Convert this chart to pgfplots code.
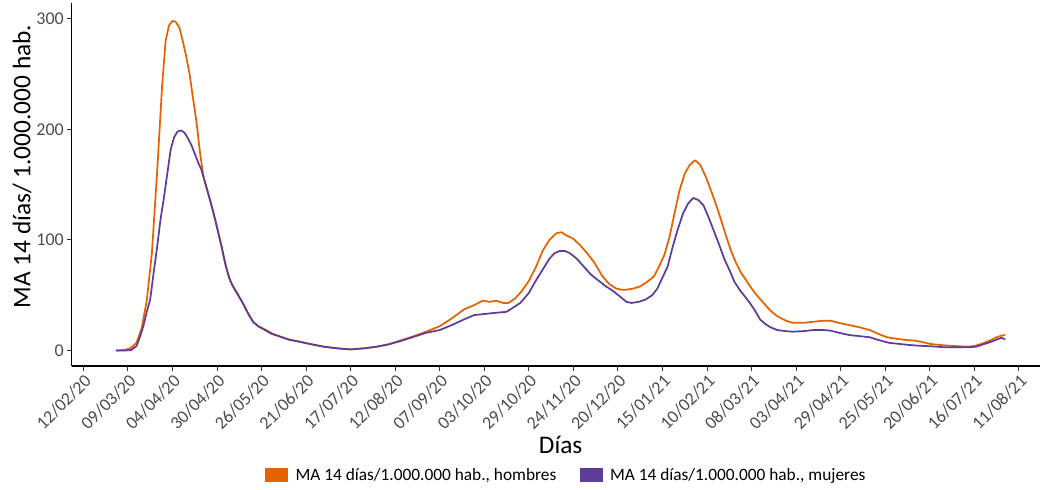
\documentclass[border=0pt]{standalone}
\usepackage{pgfplots}
\pgfplotsset{compat=1.18}
\usepackage{fontspec}
\setmainfont{Carlito}
\definecolor{hom}{HTML}{E66101}
\definecolor{muj}{HTML}{5E3C99}
\definecolor{tickgrey}{HTML}{4D4D4D}
\begin{document}
\begin{tikzpicture}
\begin{axis}[
  at={(0,0)}, anchor=south west,
  scale only axis, width=726.2pt, height=272.0pt,
  xmin=-6.8, xmax=558.3, ymin=-14.0, ymax=313.9,
  axis x line*=bottom, axis y line*=left,
  axis line style={black, line width=0.9pt, -},
  xtick={0,26,52,78,104,130,156,182,208,234,260,286,312,338,364,390,416,442,468,494,520,546},
  xticklabels={12/02/20,09/03/20,04/04/20,30/04/20,26/05/20,21/06/20,17/07/20,12/08/20,07/09/20,03/10/20,29/10/20,24/11/20,20/12/20,15/01/21,10/02/21,08/03/21,03/04/21,29/04/21,25/05/21,20/06/21,16/07/21,11/08/21},
  ytick={0,100,200,300},
  tick align=outside, major tick length=3.75pt,
  tick style={black!80, line width=0.75pt},
  /pgf/number format/assume math mode=true,
  tick label style={font=\fontsize{13.5}{15}\selectfont, text=tickgrey},
  xticklabel style={rotate=45, anchor=north east, inner sep=1pt},
  yticklabel style={inner sep=2pt},
  xlabel={Días},
  ylabel={MA 14 días/ 1.000.000 hab.},
  label style={font=\fontsize{19}{22}\selectfont},
  xlabel style={at={(axis description cs:0.505,-0.218)}, anchor=center},
  ylabel style={at={(axis description cs:-0.0513,0.55)}, anchor=center},
  legend columns=2,
  legend style={at={(axis description cs:0.5136,-0.3005)}, anchor=center, draw=none, fill=none,
    font=\fontsize{13}{15}\selectfont, inner sep=0pt,
    /tikz/every even column/.append style={column sep=12pt},
    nodes={inner xsep=5.5pt, inner ysep=1pt}},
  legend image code/.code={\fill[#1, draw=none] (0pt,-4.9pt) rectangle (17.25pt,4.9pt);},
  every axis plot/.append style={line width=1.3pt, line join=round},
]
\addplot[color=hom] coordinates {
(19,0)(22,0.2)(25,0.8)(28,2.5)(31,7)(34,20)(37,45)(40,88)(43,160)(46,240)(48,280)(50,294)(52,298)(54,297)(56,292)(58,280)(60,266)(62,250)(64,228)(66,207)(68,180)(70,158)(72,147)(74,136)(76,124)(79,105)(82,84)(84,72)(86,62)(88,56)(90,51)(93,43)(96,34)(99,26)(102,22)(106,19)(110,15.5)(115,12.5)(120,10)(126,8)(132,6)(140,3.6)(148,2)(156,1)(164,2)(171,3.4)(178,5.5)(186,9.5)(192,12.5)(200,17)(208,22)(215,29)(222,37)(228,41)(233,45)(237,44)(241,45)(245,43)(248,43)(252,47)(256,54)(260,63)(264,75)(268,90)(272,100)(276,106)(279,107)(282,104)(286,101)(290,95)(294,88)(298,80)(303,67)(307,60)(311,56)(314,55)(317,55)(321,56)(325,58)(329,62)(333,67)(336,76)(339,86)(342,102)(345,124)(348,145)(351,160)(354,168)(357,172)(360,168)(363,158)(366,146)(369,133)(372,119)(375,104)(378,90)(381,79)(384,70)(387,63)(390,56)(393,50)(397,43)(401,36)(405,31)(410,27)(414,25)(420,25)(426,26)(432,27)(436,27)(441,25)(447,23)(453,21)(459,18.5)(464,15)(469,12)(475,10.5)(480,9.5)(485,9)(490,7.5)(494,6)(500,5)(506,4.3)(512,3.8)(517,3.4)(521,4.5)(525,6.5)(529,9)(533,12)(536,13.5)(538,14)
};
\addlegendentry{MA 14 días/1.000.000 hab., hombres}
\addplot[color=muj] coordinates {
(19,0)(25,0)(28,0.5)(31,4)(33,12)(35,22)(37,35)(39,46)(41,70)(43,93)(45,118)(47,138)(49,160)(51,182)(53,193)(55,198)(57,199)(59,197)(61,192)(63,186)(65,178)(67,170)(69,163)(71,152)(73,141)(75,130)(77,118)(79,105)(81,92)(83,77)(85,66)(87,59)(90,51)(93,43)(96,34)(99,26)(102,22)(106,18.5)(110,15)(115,12.5)(120,9.8)(126,8)(132,6)(140,3.5)(148,2)(156,1)(164,2)(171,3.4)(178,5.5)(186,9)(192,12)(200,16)(208,18.5)(215,23)(222,28)(228,32)(234,33)(240,34)(247,35)(251,39)(255,43)(260,52)(264,63)(268,73)(272,83)(275,88)(278,90)(281,90)(284,88)(288,83)(292,76)(296,69)(300,64)(305,58)(309,54)(313,49)(317,44)(320,43)(324,44)(328,46)(332,50)(335,56)(338,66)(341,76)(344,94)(347,110)(350,124)(353,133)(356,138)(359,136)(362,131)(365,120)(368,108)(371,96)(374,83)(377,73)(380,62)(383,55)(386,49)(389,43)(392,36)(395,28)(398,24)(401,21)(405,18.5)(410,17.5)(414,17)(420,17.5)(426,18.5)(432,18.5)(436,18)(441,16)(447,14)(453,13)(459,12)(464,9.5)(470,7)(476,6)(482,5)(488,4.3)(495,3.8)(503,2.9)(510,2.9)(517,2.9)(521,3.5)(526,6)(530,8)(534,10.5)(536,11.5)(538,10)
};
\addlegendentry{MA 14 días/1.000.000 hab., mujeres}
\end{axis}
\path[use as bounding box] (-53.78pt,-93pt) rectangle (728.48pt,274.5pt);
\end{tikzpicture}
\end{document}
